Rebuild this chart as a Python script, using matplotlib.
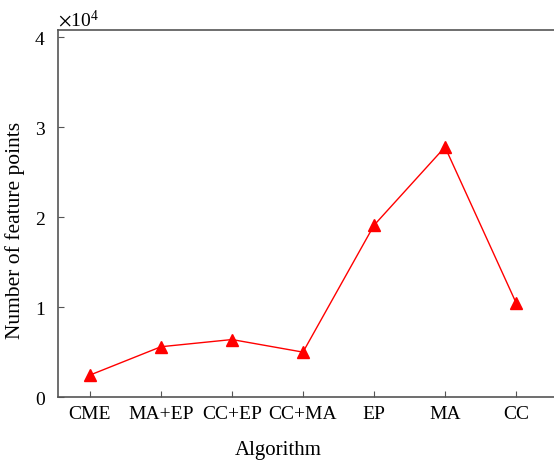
import matplotlib
matplotlib.use("Agg")
import matplotlib.pyplot as plt
from matplotlib.ticker import ScalarFormatter

# data
algorithms = ["CME", "MA+EP", "CC+EP", "CC+MA", "EP", "MA", "CC"]
feature_points = [2450, 5600, 6400, 5000, 19100, 27800, 10500]

plt.rcParams['font.family'] = ['Liberation Serif', 'DejaVu Serif']
plt.rcParams['mathtext.fontset'] = 'stix'

fig = plt.figure(figsize=(5.54, 4.64), dpi=100)
ax = fig.add_axes([0.1047, 0.142, 0.8953, 0.791])

x = range(len(algorithms))
ax.plot(x, feature_points, "-", color="red", lw=1, marker="^", ms=9,
        mfc="red", mec="red")

ax.set_xlim(-0.45, 6.535)
ax.set_ylim(0, 40800)
ax.set_xticks(list(x))
ax.set_xticklabels(algorithms)
ax.set_yticks([0, 10000, 20000, 30000, 40000])

fmt = ScalarFormatter(useMathText=True)
fmt.set_powerlimits((0, 0))
ax.yaxis.set_major_formatter(fmt)
ax.yaxis.get_offset_text().set_fontsize(14)

ax.tick_params(direction="in", length=4, labelsize=14, color="#555555")
ax.tick_params(axis="y", pad=9)
ax.tick_params(axis="x", pad=6)
for s in ["left", "bottom", "top"]:
    ax.spines[s].set_color("#555555")
    ax.spines[s].set_linewidth(1.2)
ax.spines["right"].set_visible(False)

ax.set_xlabel("Algorithm", fontsize=15, va="center")
ax.set_ylabel("Number of feature points", fontsize=15.5, va="center")
ax.xaxis.set_label_coords(0.444, -0.142)
ax.yaxis.set_label_coords(-0.087, 0.457)

fig.savefig("out.png", dpi=100)
